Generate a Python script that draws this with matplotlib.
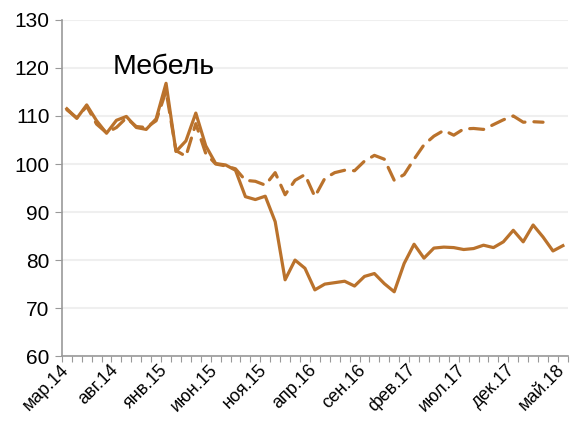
import numpy as np
import matplotlib
matplotlib.use("Agg")
import matplotlib.pyplot as plt
from matplotlib.transforms import ScaledTranslation

plt.rcParams['font.family'] = ['Liberation Sans', 'DejaVu Sans']

# monthly series, mar.14 .. may.18
meses = ['мар.14', 'апр.14', 'май.14', 'июн.14', 'июл.14', 'авг.14', 'сен.14', 'окт.14', 'ноя.14', 'дек.14',
         'янв.15', 'фев.15', 'мар.15', 'апр.15', 'май.15', 'июн.15', 'июл.15', 'авг.15', 'сен.15', 'окт.15',
         'ноя.15', 'дек.15', 'янв.16', 'фев.16', 'мар.16', 'апр.16', 'май.16', 'июн.16', 'июл.16', 'авг.16',
         'сен.16', 'окт.16', 'ноя.16', 'дек.16', 'янв.17', 'фев.17', 'мар.17', 'апр.17', 'май.17', 'июн.17',
         'июл.17', 'авг.17', 'сен.17', 'окт.17', 'ноя.17', 'дек.17', 'янв.18', 'фев.18', 'мар.18', 'апр.18',
         'май.18']

serie_solida = [111.5, 109.5, 112.3, 109.0, 106.4, 109.1, 109.9, 107.6, 107.2, 109.4,
                116.8, 102.6, 104.8, 110.6, 103.8, 100.1, 99.8, 98.7, 93.2, 92.6,
                93.3, 88.0, 75.9, 80.0, 78.3, 73.8, 75.0, 75.3, 75.6, 74.6,
                76.6, 77.2, 75.1, 73.4, 79.3, 83.3, 80.4, 82.5, 82.7, 82.6,
                82.2, 82.4, 83.1, 82.6, 83.8, 86.2, 83.8, 87.3, 84.8, 81.9,
                83.0]

serie_discontinua = [111.3, 109.6, 112.0, 108.3, 106.5, 107.6, 109.6, 107.8, 107.6, 109.0,
                     115.2, 102.8, 101.6, 108.4, 102.2, 100.0, 99.6, 99.0, 96.6, 96.4,
                     95.6, 98.2, 93.6, 96.6, 97.8, 93.2, 97.0, 98.2, 98.7, 98.6,
                     100.6, 101.8, 101.0, 96.6, 97.8, 101.0, 104.0, 105.8, 107.0, 106.0,
                     107.3, 107.4, 107.2, 108.2, 109.2, 110.0, 108.7, 108.8, 108.7,
                     np.nan, np.nan]

color = '#BA722C'
x = np.arange(len(meses))

fig = plt.figure(figsize=(5.73, 4.23), dpi=100)
ax = fig.add_axes([0.108, 0.158, 0.883, 0.795])

ax.plot(x, serie_solida, color=color, lw=2.3, solid_joinstyle='round')
ax.plot(x, serie_discontinua, color=color, lw=2.3, dashes=(4.4, 2.8), dash_capstyle='round')

ax.set_ylim(60, 130)
ax.set_yticks(range(60, 131, 10))
ax.grid(axis='y', color='#efefef', lw=1.5)
ax.set_axisbelow(True)

ax.set_xticks(np.arange(-0.5, len(meses), 1))
ax.set_xticklabels([])
ax.set_xlim(-0.5, len(meses) - 0.5)
ax.tick_params(axis='x', length=4, color='#999999')
ax.tick_params(axis='y', length=5, color='#999999', labelsize=15, pad=4)

# etiquetas cada 5 meses, algo a la izquierda del punto (como en Excel)
desplazamiento = ScaledTranslation(-0.07, -0.05, fig.dpi_scale_trans)
for xi, etiqueta in zip(x[::5], meses[::5]):
    ax.text(xi, 0, etiqueta, transform=ax.get_xaxis_transform() + desplazamiento,
            rotation=45, ha='right', va='top', rotation_mode='anchor', fontsize=13)

for lado in ['top', 'right']:
    ax.spines[lado].set_visible(False)
for lado in ['left', 'bottom']:
    ax.spines[lado].set_color('#999999')
    ax.spines[lado].set_linewidth(1.2)

ax.text(0.10, 0.84, 'Мебель', transform=ax.transAxes, fontsize=20.5, va='baseline', ha='left')

plt.savefig('out.png', dpi=100)
